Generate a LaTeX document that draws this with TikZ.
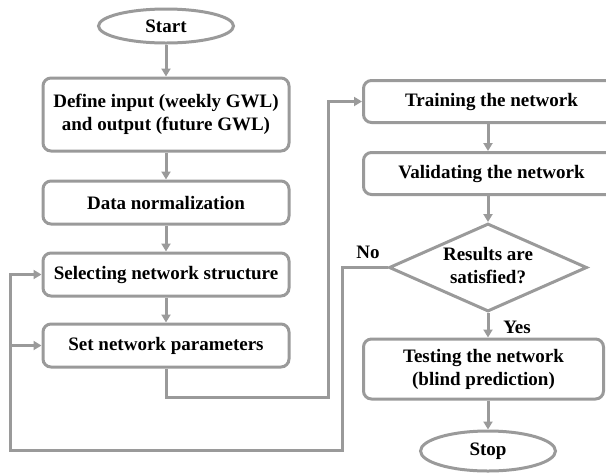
\documentclass[tikz,border=0pt]{standalone}
\usepackage{fontspec}
\setmainfont{Liberation Serif}
\usetikzlibrary{arrows.meta,shapes.geometric}

\definecolor{flowgray}{HTML}{9A9A9A}

\tikzset{
  base/.style={draw=flowgray, line width=3pt, align=center, inner sep=0pt,
    font=\fontsize{19}{23}\selectfont\bfseries, text=black},
  procbox/.style={base, rectangle, rounded corners=8pt},
  term/.style={base, ellipse},
  flow/.style={draw=flowgray, line width=3pt,
    -{Triangle[length=8pt,width=9pt]}},
  lbl/.style={font=\fontsize{19}{23}\selectfont\bfseries, inner sep=0pt}
}

\begin{document}
\begin{tikzpicture}[x=1pt, y=-1pt]
  \useasboundingbox (0,0) rectangle (606,475);
  \clip (0,0) rectangle (606,475);

  % left column
  \node[term, minimum width=135pt, minimum height=34pt] (start) at (166,26) {Start};
  \node[procbox, minimum width=246pt, minimum height=73pt] (define) at (166,114.5)
    {Define input (weekly GWL)\\and output (future GWL)};
  \node[procbox, minimum width=246pt, minimum height=43pt] (norm) at (166,202.5)
    {Data normalization};
  \node[procbox, minimum width=246pt, minimum height=43pt] (select) at (166,274.5)
    {Selecting network structure};
  \node[procbox, minimum width=246pt, minimum height=43pt] (setp) at (166,345.5)
    {Set network parameters};

  % right column
  \node[procbox, minimum width=256pt, minimum height=42pt] (train) at (491.5,101.5)
    {Training the network};
  \node[procbox, minimum width=256pt, minimum height=42pt] (valid) at (491.5,173.5)
    {Validating the network};
  \node[base, diamond, minimum width=198pt, minimum height=88pt, aspect=2.2] (cond) at (488,267.5) {};
  \node[lbl, align=center] at (488,266) {Results are\\satisfied?};
  \node[procbox, minimum width=240pt, minimum height=60pt] (test) at (483.5,369)
    {Testing the network\\(blind prediction)};
  \node[term, minimum width=135pt, minimum height=40pt] (stop) at (488,451) {Stop};

  % branch labels
  \node[lbl] (no) at (368,252) {No};
  \node[lbl] (yes) at (517,327) {Yes};

  % routing points
  \coordinate (j1) at (328,397);
  \coordinate (j2) at (342,450);
  \coordinate (j3) at (10,450);

  % main flow
  \draw[flow] (start) -- (define);
  \draw[flow] (define) -- (norm);
  \draw[flow] (norm) -- (select);
  \draw[flow] (select) -- (setp);
  \draw[flow] (setp.south) |- (j1) |- (train.west);
  \draw[flow] (train.south -| cond.north) -- (valid.north -| cond.north);
  \draw[flow] (valid.south -| cond.north) -- (cond.north);
  \draw[flow] (cond.south) -- (test.north -| cond.south);
  \draw[flow] (test.south -| stop.north) -- (stop.north);

  % feedback loop on "No"
  \draw[flow] (cond.west) -| (j2) -- (j3) |- (select.west);
  \draw[flow] (j3 |- setp.west) -- (setp.west);
\end{tikzpicture}
\end{document}
